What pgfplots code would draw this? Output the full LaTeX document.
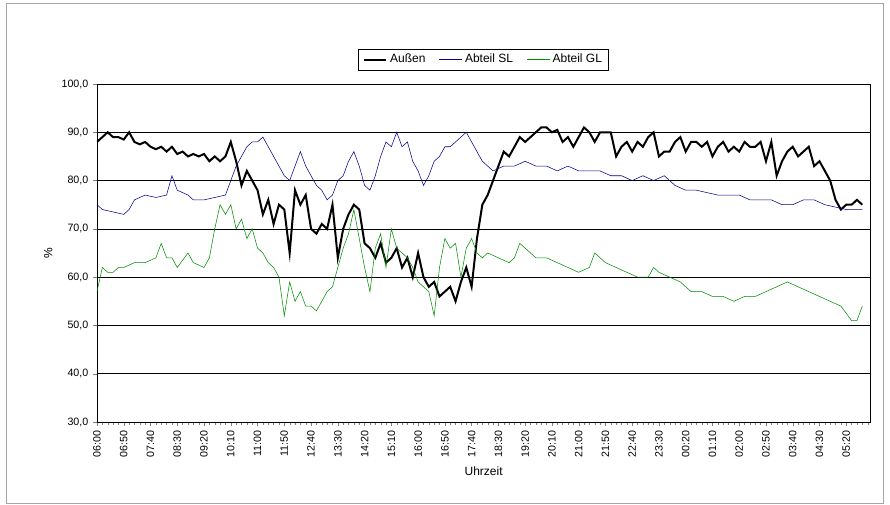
\documentclass[border=0pt]{standalone}
\usepackage{pgfplots}
\pgfplotsset{compat=1.18}
\usepackage{fontspec}
\setmainfont{Liberation Sans}
\definecolor{abtsl}{RGB}{0,0,140}
\definecolor{abtgl}{RGB}{0,140,0}
\begin{document}
\begin{tikzpicture}
\begin{axis}[scale only axis, width=580pt, height=253.5pt,
  at={(0,0)}, anchor=south west,
  xmin=0, xmax=1445, ymin=30, ymax=100,
  ytick={30,40,...,100}, ymajorgrids, major grid style={black, thin},
  /pgf/number format/.cd, fixed, fixed zerofill, precision=1, use comma, assume math mode=true,
  /pgfplots/.cd,
  xtick={0,50,...,1400},
  minor xtick={0,10,...,1440},
  xtick pos=bottom, ytick pos=left,
  xticklabels={06:00,06:50,07:40,08:30,09:20,10:10,11:00,11:50,12:40,13:30,14:20,15:10,16:00,16:50,17:40,18:30,19:20,20:10,21:00,21:50,22:40,23:30,00:20,01:10,02:00,02:50,03:40,04:30,05:20},
  xticklabel style={rotate=90, anchor=east, font=\footnotesize},
  yticklabel style={font=\footnotesize},
  tick align=outside, major tick length=3pt, minor tick length=2pt,
  xlabel={Uhrzeit}, ylabel={\%}, label style={font=\small},
  legend style={at={(0.5,1.04)}, anchor=south, legend columns=3, font=\small, draw=black, /tikz/every even column/.append style={column sep=8pt}},
  legend cell align=left,
]
\addlegendimage{draw=black, line width=1.5pt}\addlegendentry{Außen}
\addlegendimage{draw=abtsl, line width=0.6pt}\addlegendentry{Abteil SL}
\addlegendimage{draw=abtgl, line width=0.6pt}\addlegendentry{Abteil GL}
\addplot[black, line width=1.5pt, forget plot] coordinates {
(0,88)(10,89)(20,90)(30,89)(40,89)(50,88.5)(60,90)(70,88)(80,87.5)(90,88)(100,87)(110,86.5)(120,87)(130,86)(140,87)(150,85.5)(160,86)(170,85)(180,85.5)(190,85)(200,85.5)(210,84)(220,85)(230,84)(240,85)(250,88)(260,84)(270,79)(280,82)(290,80)(300,78)(310,73)(320,76)(330,71)(340,75)(350,74)(360,65)(370,78)(380,75)(390,77)(400,70)(410,69)(420,71)(430,70)(440,75)(450,64)(460,70)(470,73)(480,75)(490,74)(500,67)(510,66)(520,64)(530,67)(540,63)(550,64)(560,66)(570,62)(580,64)(590,60)(600,65)(610,60)(620,58)(630,59)(640,56)(650,57)(660,58)(670,55)(680,59)(690,62)(700,58)(710,68)(720,75)(730,77)(740,80)(750,83)(760,86)(770,85)(780,87)(790,89)(800,88)(810,89)(820,90)(830,91)(840,91)(850,90)(860,90.5)(870,88)(880,89)(890,87)(900,89)(910,91)(920,90)(930,88)(940,90)(950,90)(960,90)(970,85)(980,87)(990,88)(1000,86)(1010,88)(1020,87)(1030,89)(1040,90)(1050,85)(1060,86)(1070,86)(1080,88)(1090,89)(1100,86)(1110,88)(1120,88)(1130,87)(1140,88)(1150,85)(1160,87)(1170,88)(1180,86)(1190,87)(1200,86)(1210,88)(1220,87)(1230,87)(1240,88)(1250,84)(1260,88)(1270,81)(1280,84)(1290,86)(1300,87)(1310,85)(1320,86)(1330,87)(1340,83)(1350,84)(1360,82)(1370,80)(1380,76)(1390,74)(1400,75)(1410,75)(1420,76)(1430,75)};
\addplot[abtsl, thin, forget plot] coordinates {
(0,75)(10,74)(30,73.5)(50,73)(60,74)(70,76)(90,77)(110,76.5)(130,77)(140,81)(150,78)(170,77)(180,76)(200,76)(220,76.5)(240,77)(250,80)(260,83)(270,85)(280,87)(290,88)(300,88)(310,89)(320,87)(330,85)(340,83)(350,81)(360,80)(370,83)(380,86)(390,83)(400,81)(410,79)(420,78)(430,76)(440,77)(450,80)(460,81)(470,84)(480,86)(490,83)(500,79)(510,78)(520,81)(530,85)(540,88)(550,87)(560,90)(570,87)(580,88)(590,84)(600,82)(610,79)(620,81)(630,84)(640,85)(650,87)(660,87)(670,88)(680,89)(690,90)(700,88)(710,86)(720,84)(730,83)(740,82)(760,83)(780,83)(800,84)(820,83)(840,83)(860,82)(880,83)(900,82)(920,82)(940,82)(960,81)(980,81)(1000,80)(1020,81)(1040,80)(1060,81)(1080,79)(1100,78)(1120,78)(1140,77.5)(1160,77)(1180,77)(1200,77)(1220,76)(1240,76)(1260,76)(1280,75)(1300,75)(1320,76)(1340,76)(1360,75)(1380,74.5)(1400,74)(1420,74)(1430,74)};
\addplot[abtgl, thin, forget plot] coordinates {
(0,57)(10,62)(20,61)(30,61)(40,62)(50,62)(70,63)(90,63)(110,64)(120,67)(130,64)(140,64)(150,62)(170,65)(180,63)(200,62)(210,64)(220,70)(230,75)(240,73)(250,75)(260,70)(270,72)(280,68)(290,70)(300,66)(310,65)(320,63)(330,62)(340,60)(350,52)(360,59)(370,55)(380,57)(390,54)(400,54)(410,53)(420,55)(430,57)(440,58)(450,62)(460,66)(470,69)(480,74)(490,68)(500,62)(510,57)(520,66)(530,69)(540,62)(550,70)(560,66)(570,65)(580,64)(590,62)(600,59)(610,58)(620,57)(630,52)(640,62)(650,68)(660,66)(670,67)(680,60)(690,66)(700,68)(710,65)(720,64)(730,65)(750,64)(770,63)(780,64)(790,67)(800,66)(820,64)(840,64)(860,63)(880,62)(900,61)(920,62)(930,65)(940,64)(950,63)(970,62)(990,61)(1010,60)(1030,60)(1040,62)(1050,61)(1070,60)(1090,59)(1110,57)(1130,57)(1150,56)(1170,56)(1190,55)(1210,56)(1230,56)(1250,57)(1270,58)(1290,59)(1310,58)(1330,57)(1350,56)(1370,55)(1390,54)(1410,51)(1420,51)(1430,54)};
\end{axis}
\draw[gray!70] (-68pt,-61pt) rectangle (590pt,314pt);
\path (-72.75pt,-62.25pt) rectangle (594.75pt,316.5pt);
\end{tikzpicture}
\end{document}
